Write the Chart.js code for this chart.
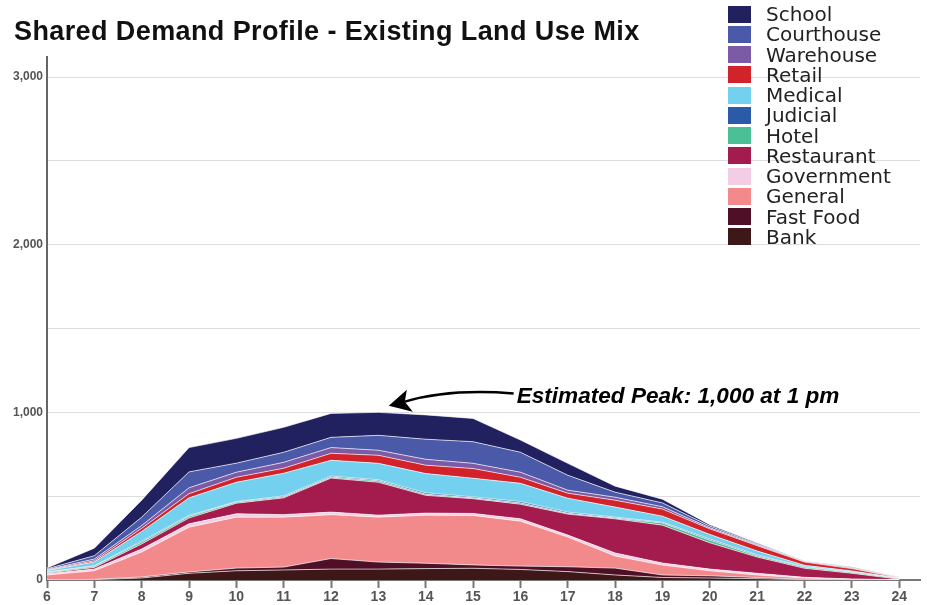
<!DOCTYPE html>
<html>
<head>
<meta charset="utf-8">
<script src="https://cdn.jsdelivr.net/npm/chart.js@4.4.0/dist/chart.umd.min.js"></script>
<style>
  html, body { margin: 0; padding: 0; background: #fff; }
  #wrap { position: relative; width: 927px; height: 605px; }
  #demand { position: absolute; left: 0; top: 0; }
  #title {
    position: absolute; left: 14px; top: 16px; z-index: 2;
    font: bold 27px "Liberation Sans", Arial, sans-serif; letter-spacing: 0.4px; color: #111; white-space: nowrap;
  }
  #legend { position: absolute; left: 728px; top: 4px; z-index: 2; font: 20px "DejaVu Sans", sans-serif; color: #222; }
  .row { display: flex; align-items: center; height: 20.25px; }
  .sw { width: 23px; height: 17px; margin-right: 15px; flex: none; }
</style>
</head>
<body>
<div id="wrap">
  <canvas id="demand" width="927" height="605"></canvas>
  <div id="title">Shared Demand Profile - Existing Land Use Mix</div>
  <div id="legend"></div>
</div>
<script>
// hour of day
const hours = [6, 7, 8, 9, 10, 11, 12, 13, 14, 15, 16, 17, 18, 19, 20, 21, 22, 23, 24];

// parking demand per land use (stacked bottom -> top)
const bank       = [0, 2, 12, 40, 55, 60, 65, 65, 68, 70, 63, 50, 30, 15, 12, 8, 2, 0, 0];
const fastFood   = [0, 2, 6, 8, 16, 17, 63, 42, 32, 20, 20, 29, 41, 15, 13, 7, 2, 1, 0];
const general    = [30, 51, 149, 267, 304, 298, 262, 268, 287, 295, 268, 177, 72, 59, 30, 15, 8, 3, 1];
const government = [8, 10, 18, 20, 20, 15, 15, 12, 12, 12, 14, 12, 18, 12, 10, 10, 4, 2, 1];
const restaurant = [4, 10, 30, 35, 63, 100, 203, 196, 106, 88, 87, 125, 204, 226, 157, 97, 54, 34, 3];
const hotel      = [4, 7, 11, 10, 7, 7, 6, 9, 7, 5, 8, 5, 5, 13, 16, 8, 7, 6, 4];
const judicial   = [2, 3, 6, 5, 3, 5, 6, 6, 8, 6, 8, 7, 5, 5, 7, 5, 3, 2, 1];
const medical    = [8, 23, 58, 105, 115, 135, 94, 98, 115, 111, 109, 83, 60, 36, 27, 23, 8, 6, 2];
const retail     = [3, 7, 18, 25, 30, 30, 42, 48, 50, 58, 36, 30, 41, 42, 33, 32, 19, 14, 2];
const warehouse  = [3, 10, 17, 35, 30, 35, 34, 30, 35, 31, 30, 18, 18, 14, 7, 5, 3, 3, 1];
const courthouse = [5, 20, 50, 95, 54, 60, 61, 89, 120, 129, 119, 89, 30, 23, 10, 5, 2, 3, 1];
const school     = [5, 45, 101, 145, 148, 149, 143, 137, 145, 139, 73, 71, 36, 22, 8, 5, 2, 3, 2];

const yTicks = [0, 1000, 2000, 3000];
const peakLabel = 'Estimated Peak: 1,000 at 1 pm';

const layers = [
  { name: 'Bank',       data: bank,       color: '#3e1718' },
  { name: 'Fast Food',  data: fastFood,   color: '#4f0f26' },
  { name: 'General',    data: general,    color: '#f28a8c' },
  { name: 'Government', data: government, color: '#f2cde3' },
  { name: 'Restaurant', data: restaurant, color: '#a31c4d' },
  { name: 'Hotel',      data: hotel,      color: '#4bbf96' },
  { name: 'Judicial',   data: judicial,   color: '#2a5aa8' },
  { name: 'Medical',    data: medical,    color: '#74d0ef' },
  { name: 'Retail',     data: retail,     color: '#d2232a' },
  { name: 'Warehouse',  data: warehouse,  color: '#7b5aa6' },
  { name: 'Courthouse', data: courthouse, color: '#4b5aa8' },
  { name: 'School',     data: school,     color: '#22215f' }
];

// legend, top entry = top layer
const legend = document.getElementById('legend');
layers.slice().reverse().forEach(l => {
  const row = document.createElement('div');
  row.className = 'row';
  row.innerHTML = `<span class="sw" style="background:${l.color}"></span><span>${l.name}</span>`;
  legend.appendChild(row);
});

// curved arrow + note pointing at the peak
const peakNote = {
  id: 'peakNote',
  afterDraw(chart) {
    const { ctx, scales: { x, y } } = chart;
    const tipX = x.getPixelForValue(13.22), tipY = y.getPixelForValue(1040);
    const txtX = x.getPixelForValue(15.92), txtY = y.getPixelForValue(1095);
    ctx.save();
    ctx.strokeStyle = '#000';
    ctx.fillStyle = '#000';
    ctx.lineWidth = 2.5;
    ctx.beginPath();
    ctx.moveTo(txtX - 3, txtY - 3);
    ctx.quadraticCurveTo(tipX + 60, txtY - 8, tipX + 16, tipY - 4);
    ctx.stroke();
    ctx.beginPath();
    ctx.moveTo(tipX, tipY);
    ctx.lineTo(tipX + 18, tipY - 16);
    ctx.lineTo(tipX + 16, tipY - 4);
    ctx.lineTo(tipX + 24, tipY + 6);
    ctx.closePath();
    ctx.fill();
    ctx.font = 'italic bold 22.6px "Liberation Sans", Arial, sans-serif';
    ctx.textBaseline = 'middle';
    ctx.fillText(peakLabel, txtX, txtY);
    ctx.restore();
  }
};

const tickFont = { family: '"Liberation Sans", Arial, sans-serif', weight: 'bold', size: 14 };

new Chart(document.getElementById('demand'), {
  type: 'line',
  data: {
    datasets: layers.map((l, i) => ({
      label: l.name,
      data: hours.map((h, j) => ({ x: h, y: l.data[j] })),
      backgroundColor: l.color,
      borderColor: 'rgba(255, 255, 255, 0.65)',
      borderWidth: 1,
      fill: i === 0 ? 'origin' : '-1',
      pointRadius: 0,
      tension: 0
    }))
  },
  options: {
    responsive: false,
    animation: false,
    layout: { padding: { top: 57, left: 0, right: 7, bottom: 0 } },
    plugins: { legend: { display: false }, tooltip: { enabled: false } },
    scales: {
      x: {
        type: 'linear', min: 6, max: 24.44,
        ticks: { stepSize: 1, includeBounds: false, autoSkip: false, maxRotation: 0, padding: 1, color: '#555', font: tickFont },
        grid: { drawOnChartArea: false, color: '#777', tickLength: 8, tickWidth: 2 },
        border: { color: '#777', width: 2 },
        afterFit: (s) => { s.height = 25; }
      },
      y: {
        stacked: true, min: 0, max: 3120,
        afterBuildTicks: (s) => { s.ticks = [0, 500, 1000, 1500, 2000, 2500, 3000].map(v => ({ value: v })); },
        ticks: {
          color: '#555', font: { ...tickFont, size: 12 }, padding: 4,
          callback: (v) => yTicks.includes(v) ? v.toLocaleString('en-US') : ''
        },
        grid: { color: '#ddd', drawTicks: false },
        border: { color: '#666', width: 2 },
        afterFit: (s) => { s.width = 47; }
      }
    }
  },
  plugins: [peakNote]
});
</script>
</body>
</html>
